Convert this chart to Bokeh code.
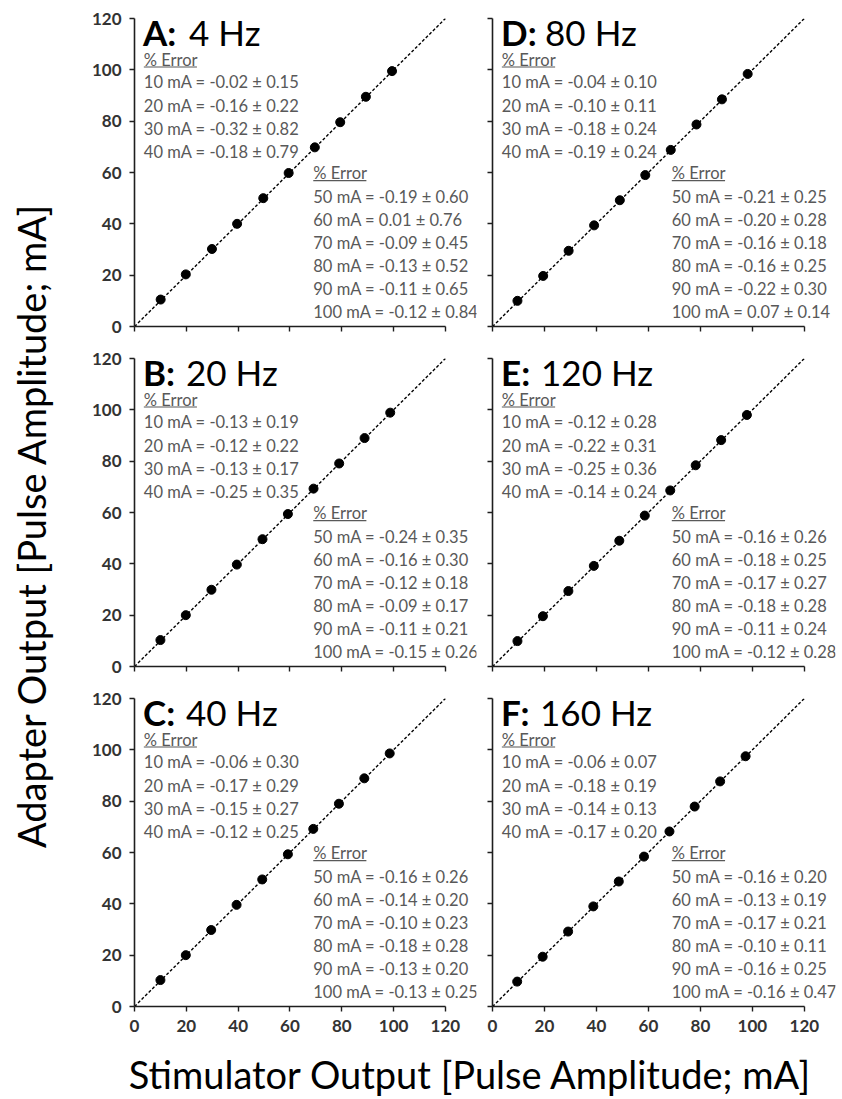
import math
from bokeh.plotting import figure
from bokeh.layouts import gridplot, row, column
from bokeh.models import Label, Range1d, FixedTicker
from bokeh.embed import file_html
from bokeh.resources import INLINE
from bokeh.core.properties import value

# ---------------- data ----------------
levels = ["10 mA", "20 mA", "30 mA", "40 mA", "50 mA",
          "60 mA", "70 mA", "80 mA", "90 mA", "100 mA"]

letters = ["A", "B", "C", "D", "E", "F"]
freqs = ["4 Hz", "20 Hz", "40 Hz", "80 Hz", "120 Hz", "160 Hz"]

# stimulator output (x) and adapter output (y), mA
stim_A = [10.1, 19.8, 29.9, 39.6, 49.7, 59.5, 69.6, 79.4, 89.3, 99.4]
adapt_A = [10.5, 20.3, 30.2, 40.0, 50.0, 59.8, 69.8, 79.6, 89.5, 99.5]
stim_B = [10.0, 19.8, 29.7, 39.5, 49.4, 59.2, 69.1, 79.0, 88.8, 98.7]
adapt_B = [10.3, 20.0, 29.9, 39.7, 49.6, 59.4, 69.3, 79.1, 89.0, 98.9]
stim_C = [10.0, 19.8, 29.6, 39.4, 49.3, 59.2, 69.0, 78.9, 88.7, 98.5]
adapt_C = [10.3, 20.0, 29.8, 39.6, 49.5, 59.3, 69.2, 79.0, 88.9, 98.6]
stim_D = [9.6, 19.5, 29.3, 39.1, 49.0, 58.8, 68.6, 78.5, 88.3, 98.2]
adapt_D = [10.0, 19.7, 29.5, 39.4, 49.2, 59.0, 68.8, 78.7, 88.5, 98.4]
stim_E = [9.6, 19.4, 29.2, 39.0, 48.8, 58.6, 68.4, 78.2, 88.0, 97.9]
adapt_E = [9.9, 19.6, 29.4, 39.2, 49.0, 58.8, 68.6, 78.4, 88.2, 98.0]
stim_F = [9.5, 19.3, 29.1, 38.8, 48.6, 58.3, 68.1, 77.8, 87.6, 97.4]
adapt_F = [9.7, 19.4, 29.2, 39.0, 48.7, 58.4, 68.2, 77.9, 87.7, 97.5]

mean_A = [-0.02, -0.16, -0.32, -0.18, -0.19, 0.01, -0.09, -0.13, -0.11, -0.12]
sd_A = [0.15, 0.22, 0.82, 0.79, 0.60, 0.76, 0.45, 0.52, 0.65, 0.84]
mean_B = [-0.13, -0.12, -0.13, -0.25, -0.24, -0.16, -0.12, -0.09, -0.11, -0.15]
sd_B = [0.19, 0.22, 0.17, 0.35, 0.35, 0.30, 0.18, 0.17, 0.21, 0.26]
mean_C = [-0.06, -0.17, -0.15, -0.12, -0.16, -0.14, -0.10, -0.18, -0.13, -0.13]
sd_C = [0.30, 0.29, 0.27, 0.25, 0.26, 0.20, 0.23, 0.28, 0.20, 0.25]
mean_D = [-0.04, -0.10, -0.18, -0.19, -0.21, -0.20, -0.16, -0.16, -0.22, 0.07]
sd_D = [0.10, 0.11, 0.24, 0.24, 0.25, 0.28, 0.18, 0.25, 0.30, 0.14]
mean_E = [-0.12, -0.22, -0.25, -0.14, -0.16, -0.18, -0.17, -0.18, -0.11, -0.12]
sd_E = [0.28, 0.31, 0.36, 0.24, 0.26, 0.25, 0.27, 0.28, 0.24, 0.28]
mean_F = [-0.06, -0.18, -0.14, -0.17, -0.16, -0.13, -0.17, -0.10, -0.16, -0.16]
sd_F = [0.07, 0.19, 0.13, 0.20, 0.20, 0.19, 0.21, 0.11, 0.25, 0.47]

axis_ticks = [0, 20, 40, 60, 80, 100, 120]
x_title = "Stimulator Output [Pulse Amplitude; mA]"
y_title = "Adapter Output [Pulse Amplitude; mA]"

panels = {
    "A": (stim_A, adapt_A, mean_A, sd_A),
    "B": (stim_B, adapt_B, mean_B, sd_B),
    "C": (stim_C, adapt_C, mean_C, sd_C),
    "D": (stim_D, adapt_D, mean_D, sd_D),
    "E": (stim_E, adapt_E, mean_E, sd_E),
    "F": (stim_F, adapt_F, mean_F, sd_F),
}

# ---------------- style ----------------
FONT = "Lato"
XMAX = 132          # frame runs a bit past the axis end so the text fits
FW, FH = 343, 308   # 312 px per 120 units horizontally
title_offsets = {"A": 46, "B": 43, "C": 43, "D": 44, "E": 40, "F": 39}
AXIS_COL = "#1e1e1e"
TEXT_COL = "#595959"
STAT_SIZE = "16.5px"
YT_W = 88


def make_panel(letter, freq, col, rowi):
    stim, adapt, means, sds = panels[letter]
    left_col = col == 0
    bottom = rowi == 2
    mbl = 133 - YT_W if left_col else 7
    mbr = 9 if left_col else 2
    mbt = 18 if rowi == 0 else 16
    mbb = 40 if bottom else 16
    p = figure(width=mbl + FW + mbr, height=mbt + FH + mbb,
               x_range=Range1d(0, XMAX), y_range=Range1d(0, 120),
               output_backend="svg", toolbar_location=None, tools="",
               min_border_left=mbl, min_border_right=mbr,
               min_border_top=mbt, min_border_bottom=mbb)
    p.outline_line_color = None
    p.grid.visible = False
    p.background_fill_color = "white"
    p.border_fill_color = "white"
    p.xaxis.bounds = (0, 120)
    for ax in (p.xaxis[0], p.yaxis[0]):
        ax.ticker = FixedTicker(ticks=axis_ticks)
        ax.axis_line_color = AXIS_COL
        ax.axis_line_width = 1.6
        ax.major_tick_line_color = AXIS_COL
        ax.major_tick_line_width = 1.4
        ax.major_tick_out = 5
        ax.major_tick_in = 0
        ax.minor_tick_line_color = None
        ax.major_label_text_font = FONT
        ax.major_label_text_font_style = "bold"
        ax.major_label_text_font_size = "17px"
        ax.major_label_text_color = "#333333"
        ax.major_label_standoff = 8
    if not left_col:
        p.yaxis.major_label_overrides = {t: "" for t in axis_ticks}
        p.yaxis.major_label_text_font_size = "0px"
        p.yaxis.major_label_standoff = 0
    if not bottom:
        p.xaxis.major_label_overrides = {t: "" for t in axis_ticks}
        p.xaxis.major_label_text_font_size = "0px"
        p.xaxis.major_label_standoff = 0

    # identity line and points
    p.line([0, 120], [0, 120], line_color="black", line_width=1.4,
           line_dash="3 2")
    p.scatter(stim, adapt, size=9, marker="circle", fill_color="black",
              line_color="black")

    # panel title
    tx, ty = 3.3, 114.9
    p.add_layout(Label(x=tx, y=ty, text=letter + ":", text_font=FONT,
                       text_font_style="bold", text_font_size="35px",
                       text_color="black", text_baseline="middle"))
    p.add_layout(Label(x=tx, y=ty, x_offset=title_offsets[letter], text=freq,
                       text_font=FONT, text_font_size="35px",
                       text_color="black", text_baseline="middle"))

    # error stats
    texts = [f"{lv} = {m:.2f} \u00b1 {s:.2f}" for lv, m, s in zip(levels, means, sds)]
    step = 9.0
    blocks = [(3.6, 104.0, 95.1, texts[:4]), (69.0, 59.7, 50.6, texts[4:])]
    for bx, hy, ry, tt in blocks:
        p.text(x=[bx], y=[hy], text=["% Error"], text_font=value(FONT),
               text_font_size=STAT_SIZE, text_color=TEXT_COL,
               text_baseline="middle", text_align="left")
        p.segment(x0=[bx], y0=[hy - 2.9], x1=[bx + 20.5], y1=[hy - 2.9],
                  line_color=TEXT_COL, line_width=1.2)
        p.text(x=[bx] * len(tt), y=[ry - step * k for k in range(len(tt))],
               text=tt, text_font=value(FONT), text_font_size=STAT_SIZE,
               text_color=TEXT_COL, text_baseline="middle", text_align="left")
    return p


grid_rows = []
for r in range(3):
    grid_rows.append([make_panel(letters[r], freqs[r], 0, r),
                      make_panel(letters[r + 3], freqs[r + 3], 1, r)])

grid = gridplot(grid_rows, toolbar_location=None)

GRID_W = (45 + FW + 9) + (7 + FW + 2)
GRID_H = (18 + FH + 16) + (16 + FH + 16) + (16 + FH + 40)
XT_H = 52

# y title figure
yt = figure(width=YT_W, height=GRID_H, x_range=Range1d(0, YT_W),
            y_range=Range1d(0, GRID_H), output_backend="svg",
            toolbar_location=None, tools="", min_border=0)
yt.axis.visible = False
yt.grid.visible = False
yt.outline_line_color = None
yt.add_layout(Label(x=30, y=GRID_H - 525, text=y_title, angle=math.pi / 2,
                    text_font=FONT, text_font_size="38px", text_color="black",
                    text_align="center", text_baseline="middle"))

# x title figure
xt = figure(width=GRID_W, height=XT_H, x_range=Range1d(0, GRID_W),
            y_range=Range1d(0, XT_H), output_backend="svg",
            toolbar_location=None, tools="", min_border=0)
xt.axis.visible = False
xt.grid.visible = False
xt.outline_line_color = None
xt.add_layout(Label(x=470 - YT_W, y=XT_H - 27, text=x_title, text_font=FONT,
                    text_font_size="38px", text_color="black",
                    text_align="center", text_baseline="middle"))

layout = row(yt, column(grid, xt))

open("out.html", "w").write(file_html(layout, INLINE))
